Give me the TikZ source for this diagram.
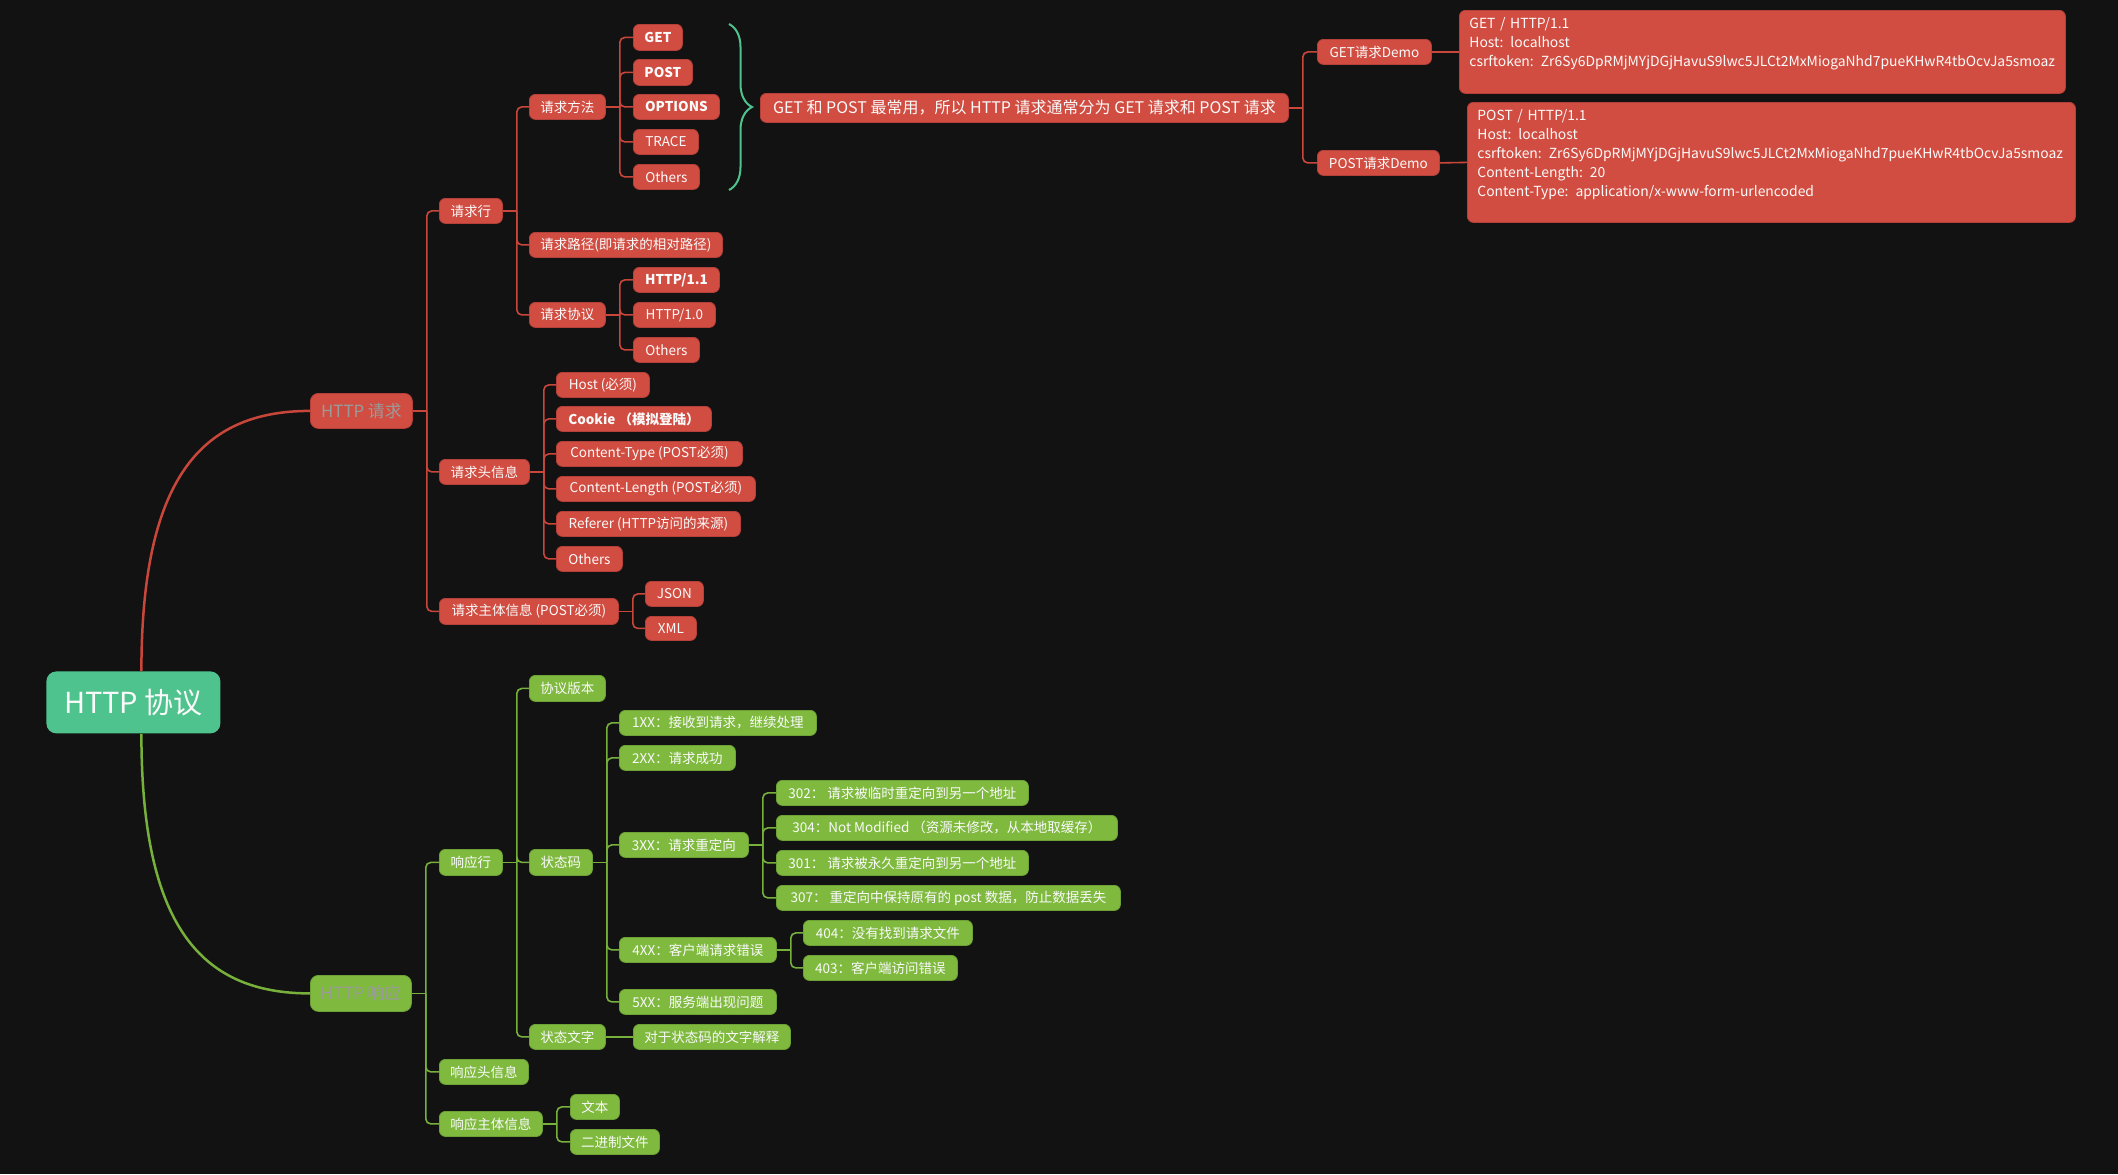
\documentclass[tikz,border=0pt]{standalone}
\usepackage{fontspec}
\setmainfont{Noto Sans CJK SC}
\usetikzlibrary{calc,decorations.pathreplacing}

\definecolor{bgc}{HTML}{121212}
\definecolor{redfill}{HTML}{D24D41}
\definecolor{redline}{HTML}{C8463A}
\definecolor{rededge}{HTML}{B5403A}
\definecolor{grnfill}{HTML}{7FBA3F}
\definecolor{grnline}{HTML}{78B03C}
\definecolor{grnedge}{HTML}{6EA236}
\definecolor{rootfill}{HTML}{4FC38D}
\definecolor{dimtext}{HTML}{9A9A9A}
\definecolor{lighttext}{HTML}{FAFAFA}

% one unit = one pixel, y grows downwards
\tikzset{
  x=0.5pt, y=-0.5pt,
  base/.style={rectangle, rounded corners=3pt, inner sep=0pt, anchor=north west,
    text=lighttext, font=\fontsize{6.75pt}{8pt}\selectfont},
  rnode/.style={base, fill=redfill, draw=rededge, line width=0.4pt},
  gnode/.style={base, fill=grnfill, draw=grnedge, line width=0.4pt},
  topic/.style={rounded corners=4pt, text=dimtext, font=\fontsize{8.4pt}{10pt}\selectfont},
  sz/.style 2 args={minimum width={(#1)*0.5pt}, minimum height={(#2)*0.5pt}},
  rline/.style={draw=redline, line width=0.8pt, rounded corners=2.5pt},
  gline/.style={draw=grnline, line width=0.8pt, rounded corners=2.5pt},
  demobox/.style={rnode, rounded corners=3pt, align=left, inner xsep=5pt, inner ysep=0pt,
    font=\fontsize{6.95pt}{9.5pt}\selectfont},
}

% parent -> several children, joined by a vertical bar
\newcommand\mmbranch[3]{%
  \coordinate (#2-j) at ([xshift=7pt]#2.east);
  \draw[#1, rounded corners=0pt] (#2.east) -- (#2-j);
  \foreach \c in {#3} {\draw[#1] (#2-j) |- (\c.west);}
}

\begin{document}
\begin{tikzpicture}
\fill[bgc] (0,0) rectangle (2118,1174);
\useasboundingbox (0,0) rectangle (2118,1174);

% root
\node[base, fill=rootfill, rounded corners=5pt, sz={174}{62},
      font=\fontsize{14.5pt}{16pt}\selectfont] (root) at (46,671) {HTTP 协议};

% ---------------- request side ----------------
\node[rnode, topic, sz={102}{35}] (req) at (310,393) {HTTP 请求};

\node[rnode, sz={63}{25}] (reqline) at (439,198) {请求行};
\node[rnode, sz={76}{25}] (method) at (529,94) {请求方法};
\node[rnode, sz={49}{26}] (get) at (633,24) {\bfseries GET};
\node[rnode, sz={59}{26}] (post) at (633,59) {\bfseries POST};
\node[rnode, sz={86}{25}] (options) at (633,94) {\bfseries OPTIONS};
\node[rnode, sz={65}{25}] (trace) at (633,129) {TRACE};
\node[rnode, sz={66}{25}] (mothers) at (633,164) {Others};
\node[rnode, sz={193}{25}] (path) at (529,232) {请求路径(即请求的相对路径)};
\node[rnode, sz={76}{25}] (proto) at (529,302) {请求协议};
\node[rnode, sz={86}{25}] (h11) at (633,267) {\bfseries HTTP/1.1};
\node[rnode, sz={82}{25}] (h10) at (633,302) {HTTP/1.0};
\node[rnode, sz={66}{25}] (pothers) at (633,337) {Others};

\node[rnode, sz={90}{25}] (header) at (439,459) {请求头信息};
\node[rnode, sz={93}{25}] (host) at (556,372) {Host (必须)};
\node[rnode, sz={155}{25}] (cookie) at (556,406) {\bfseries Cookie （模拟登陆）};
\node[rnode, sz={186}{25}] (ctype) at (556,441) {Content-Type (POST必须)};
\node[rnode, sz={199}{25}] (clen) at (556,476) {Content-Length (POST必须)};
\node[rnode, sz={184}{25}] (referer) at (556,511) {Referer (HTTP访问的来源)};
\node[rnode, sz={66}{25}] (hothers) at (556,546) {Others};

\node[rnode, sz={179}{26}] (body) at (439,598) {请求主体信息 (POST必须)};
\node[rnode, sz={58}{25}] (json) at (645,581) {JSON};
\node[rnode, sz={51}{24}] (xml) at (645,616) {XML};

\node[rnode, sz={528}{29}, font=\fontsize{8pt}{10pt}\selectfont] (note) at (760,93)
  {GET 和 POST 最常用，所以 HTTP 请求通常分为 GET 请求和 POST 请求};
\node[rnode, sz={114}{25}] (getdemo) at (1317,39) {GET请求Demo};
\node[rnode, sz={122}{25}] (postdemo) at (1317,150) {POST请求Demo};

\node[demobox, text width=293pt, minimum height=41.5pt] (getbox) at (1459,10)
  {GET / HTTP/1.1\\Host: localhost\\csrftoken: Zr6Sy6DpRMjMYjDGjHavuS9lwc5JLCt2MxMiogaNhd7pueKHwR4tbOcvJa5smoaz\\ \mbox{}};
\node[demobox, text width=294pt, minimum height=60pt] (postbox) at (1467,102)
  {POST / HTTP/1.1\\Host: localhost\\csrftoken: Zr6Sy6DpRMjMYjDGjHavuS9lwc5JLCt2MxMiogaNhd7pueKHwR4tbOcvJa5smoaz\\Content-Length: 20\\Content-Type: application/x-www-form-urlencoded\\ \mbox{}};

% ---------------- response side ----------------
\node[gnode, topic, sz={101}{36}] (resp) at (310,975) {HTTP 响应};

\node[gnode, sz={63}{26}] (respline) at (439,849) {响应行};
\node[gnode, sz={76}{26}] (version) at (529,675) {协议版本};
\node[gnode, sz={63}{26}] (status) at (529,849) {状态码};
\node[gnode, sz={197}{25}] (s1xx) at (619,710) {1XX：接收到请求，继续处理};
\node[gnode, sz={116}{25}] (s2xx) at (619,745) {2XX：请求成功};
\node[gnode, sz={129}{25}] (s3xx) at (619,832) {3XX：请求重定向};
\node[gnode, sz={252}{25}] (s302) at (776,780) {302： 请求被临时重定向到另一个地址};
\node[gnode, sz={341}{25}] (s304) at (776,815) {304：Not Modified （资源未修改，从本地取缓存）};
\node[gnode, sz={252}{25}] (s301) at (776,850) {301： 请求被永久重定向到另一个地址};
\node[gnode, sz={344}{25}] (s307) at (776,885) {307： 重定向中保持原有的 post 数据，防止数据丢失};
\node[gnode, sz={157}{25}] (s4xx) at (619,937) {4XX：客户端请求错误};
\node[gnode, sz={169}{25}] (s404) at (803,920) {404：没有找到请求文件};
\node[gnode, sz={154}{25}] (s403) at (803,955) {403：客户端访问错误};
\node[gnode, sz={157}{25}] (s5xx) at (619,989) {5XX：服务端出现问题};
\node[gnode, sz={76}{25}] (stext) at (529,1024) {状态文字};
\node[gnode, sz={157}{25}] (sexp) at (633,1024) {对于状态码的文字解释};

\node[gnode, sz={89}{25}] (rheader) at (439,1059) {响应头信息};
\node[gnode, sz={103}{25}] (rbody) at (439,1111) {响应主体信息};
\node[gnode, sz={49}{25}] (btext) at (570,1094) {文本};
\node[gnode, sz={89}{25}] (bbin) at (570,1129) {二进制文件};

% ---------------- connectors ----------------
\coordinate (rt) at ([xshift=4pt]root.north);
\coordinate (rb) at ([xshift=4pt]root.south);
\draw[redline, line width=1.25pt] (rt) .. controls ($(rt)+(0,-191)$) and ($(req.west)+(-110,0)$) .. (req.west);
\draw[grnline, line width=1.25pt] (rb) .. controls ($(rb)+(0,191)$) and ($(resp.west)+(-110,0)$) .. (resp.west);

\mmbranch{rline}{req}{reqline,header,body}
\mmbranch{rline}{reqline}{method,path,proto}
\mmbranch{rline}{method}{get,post,options,trace,mothers}
\mmbranch{rline}{proto}{h11,h10,pothers}
\mmbranch{rline}{header}{host,cookie,ctype,clen,referer,hothers}
\mmbranch{rline}{body}{json,xml}
\mmbranch{rline}{note}{getdemo,postdemo}
\draw[rline] (getdemo.east) -- (getbox.west);
\draw[rline] (postdemo.east) -- (postbox.west);

\mmbranch{gline}{resp}{respline,rheader,rbody}
\mmbranch{gline}{respline}{version,status,stext}
\mmbranch{gline}{status}{s1xx,s2xx,s3xx,s4xx,s5xx}
\mmbranch{gline}{s3xx}{s302,s304,s301,s307}
\mmbranch{gline}{s4xx}{s404,s403}
\draw[gline] (stext.east) -- (sexp.west);
\mmbranch{gline}{rbody}{btext,bbin}

% brace gathering the request methods
\coordinate (bt) at (729,24);
\coordinate (bb) at (729,190);
\draw[rootfill, line width=1pt, decorate, decoration={brace, amplitude=11.5pt}] (bt) -- (bb);
\end{tikzpicture}
\end{document}
